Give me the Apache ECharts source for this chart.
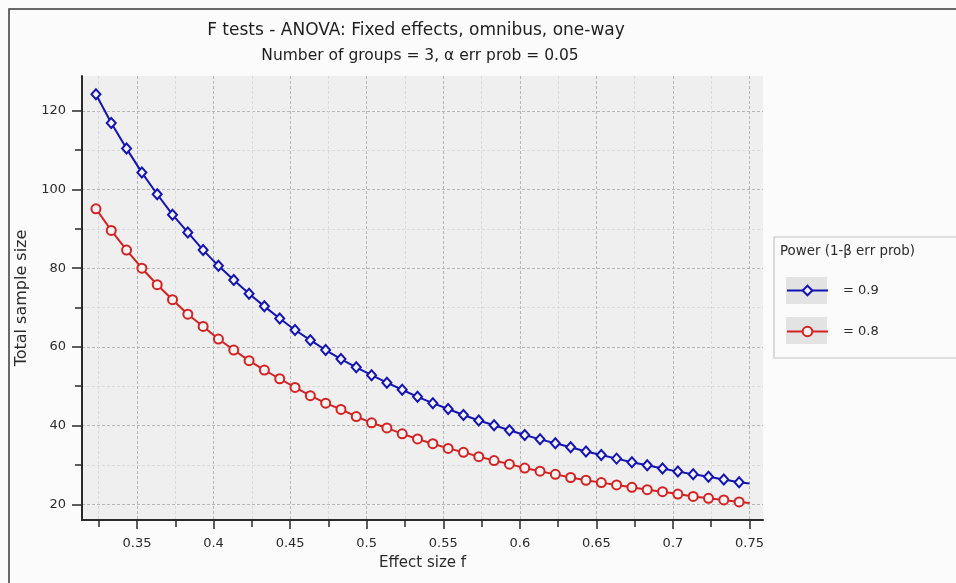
<!DOCTYPE html>
<html>
<head>
<meta charset="utf-8">
<script src="https://cdn.jsdelivr.net/npm/echarts@6/dist/echarts.min.js"></script>
<style>
html,body{margin:0;padding:0;background:#fbfbfb;}
#c{width:956px;height:583px;}
</style>
</head>
<body>
<div id="c"></div>
<script>
// Effect size f at each marker, plus the line end at 0.75
const effectSize = [0.3232,0.3332,0.3432,0.3532,0.3632,0.3732,0.3832,0.3932,0.4032,0.4132,
  0.4232,0.4332,0.4432,0.4532,0.4632,0.4732,0.4832,0.4932,0.5032,0.5132,
  0.5232,0.5332,0.5432,0.5532,0.5632,0.5732,0.5832,0.5932,0.6032,0.6132,
  0.6232,0.6332,0.6432,0.6532,0.6632,0.6732,0.6832,0.6932,0.7032,0.7132,
  0.7232,0.7332,0.7432,0.75];
// Total sample size, power = 0.9
const power09 = [124.2,116.9,110.4,104.3,98.8,93.6,89.1,84.6,80.6,77.0,
  73.5,70.3,67.2,64.3,61.7,59.2,56.9,54.8,52.8,50.9,
  49.1,47.3,45.7,44.2,42.7,41.3,40.1,38.8,37.6,36.5,
  35.5,34.5,33.4,32.5,31.6,30.7,29.9,29.1,28.3,27.6,
  27.0,26.3,25.6,25.3];
// Total sample size, power = 0.8
const power08 = [95.1,89.6,84.6,80.0,75.8,72.0,68.3,65.2,62.0,59.2,
  56.5,54.1,51.9,49.7,47.6,45.7,44.1,42.3,40.7,39.4,
  37.9,36.6,35.4,34.2,33.2,32.1,31.1,30.2,29.2,28.4,
  27.6,26.8,26.1,25.5,24.9,24.3,23.7,23.2,22.6,22.0,
  21.5,21.1,20.6,20.3];
const seriesNames = ['= 0.9', '= 0.8'];
const xMajorTicks = [0.35,0.4,0.45,0.5,0.55,0.6,0.65,0.7,0.75];
const xMinorTicks = [0.325,0.375,0.425,0.475,0.525,0.575,0.625,0.675,0.725];
const yMajorTicks = [20,40,60,80,100,120];
const yMinorTicks = [30,50,70,90,110];
const xRange = [0.3141, 0.7588];
const yRange = [16, 128.85];

const FONT = '"DejaVu Sans"';
const TXT = '#2b2b2b';

function pts(vals){
  return effectSize.map((x,i)=>{
    const item = {value:[x, vals[i]]};
    if (i === effectSize.length - 1) item.symbol = 'none';
    return item;
  });
}

const chart = echarts.init(document.getElementById('c'), null, {renderer:'canvas'});
const majorSplit = {show:true, lineStyle:{color:'#b6b6b6', type:[3,2], width:1}};
const minorSplit = {show:true, lineStyle:{color:'#dadada', type:[3,2], width:1}};

chart.setOption({
  backgroundColor:'#fbfbfb',
  animation:false,
  textStyle:{fontFamily:FONT},
  title:[
    {text:'F tests - ANOVA: Fixed effects, omnibus, one-way', left:416, top:22, padding:0, textAlign:'center',
     textStyle:{fontSize:17, fontWeight:'normal', color:'#1e1e1e', fontFamily:FONT}},
    {text:'Number of groups = 3, α err prob = 0.05', left:420, top:48, padding:0, textAlign:'center',
     textStyle:{fontSize:15.5, fontWeight:'normal', color:'#1e1e1e', fontFamily:FONT}}
  ],
  grid:{left:82, right:193, top:76, bottom:63, show:true, backgroundColor:'#efefef', borderWidth:0, containLabel:false},
  xAxis:[
    {type:'value', min:xRange[0], max:xRange[1], position:'bottom',
     name:'Effect size f', nameLocation:'middle', nameGap:36,
     nameTextStyle:{fontSize:15, color:TXT, fontFamily:FONT},
     axisLine:{show:true, lineStyle:{color:'#2a2a2a', width:2}},
     axisTick:{show:true, customValues:xMajorTicks, length:9, lineStyle:{color:'#2a2a2a', width:1.5}},
     axisLabel:{show:true, customValues:xMajorTicks, margin:17, fontSize:13, color:TXT, fontFamily:FONT},
     splitLine:majorSplit},
    {type:'value', min:xRange[0], max:xRange[1], position:'bottom',
     axisLine:{show:false},
     axisTick:{show:true, customValues:xMinorTicks, length:7, lineStyle:{color:'#2a2a2a', width:1.5}},
     axisLabel:{show:false},
     splitLine:minorSplit}
  ],
  yAxis:[
    {type:'value', min:yRange[0], max:yRange[1], position:'left',
     name:'Total sample size', nameLocation:'middle', nameGap:42,
     nameTextStyle:{fontSize:16, color:TXT, fontFamily:FONT},
     axisLine:{show:true, lineStyle:{color:'#2a2a2a', width:2}},
     axisTick:{show:true, customValues:yMajorTicks, length:10, lineStyle:{color:'#2a2a2a', width:1.5}},
     axisLabel:{show:true, customValues:yMajorTicks, margin:16, fontSize:13, color:TXT, fontFamily:FONT},
     splitLine:majorSplit},
    {type:'value', min:yRange[0], max:yRange[1], position:'left',
     axisLine:{show:false},
     axisTick:{show:true, customValues:yMinorTicks, length:7, lineStyle:{color:'#2a2a2a', width:1.5}},
     axisLabel:{show:false},
     splitLine:minorSplit}
  ],
  legend:{
    orient:'vertical', left:786, top:284, padding:0, itemWidth:41, itemHeight:12, itemGap:28,
    selectedMode:false, data:seriesNames,
    textStyle:{fontSize:13, color:TXT, fontFamily:FONT, padding:[0,0,0,10]}
  },
  graphic:[
    {type:'rect', z:0, shape:{x:9, y:9, width:1000, height:1000}, style:{fill:'none', stroke:'#3a3a3a', lineWidth:1.5}},
    {type:'rect', z:0, shape:{x:774, y:237, width:200, height:121}, style:{fill:'#fbfbfb', stroke:'#c4c4c4', lineWidth:1.2}},
    {type:'text', z:1, x:780, y:252, style:{text:'Power (1-β err prob)', fontSize:13.4, fontFamily:FONT, fill:TXT, textVerticalAlign:'middle'}},
    {type:'rect', z:1, shape:{x:786, y:277, width:41, height:27}, style:{fill:'#e3e3e3'}},
    {type:'rect', z:1, shape:{x:786, y:317, width:41, height:27}, style:{fill:'#e3e3e3'}}
  ],
  series:[
    {name:seriesNames[0], type:'line', xAxisIndex:0, yAxisIndex:0, data:pts(power09),
     symbol:'diamond', symbolSize:[9,10], showAllSymbol:true,
     lineStyle:{color:'#1414b4', width:2},
     itemStyle:{color:'#f4f4f4', borderColor:'#1414b4', borderWidth:2}},
    {name:seriesNames[1], type:'line', xAxisIndex:0, yAxisIndex:0, data:pts(power08),
     symbol:'circle', symbolSize:9, showAllSymbol:true,
     lineStyle:{color:'#d42222', width:2},
     itemStyle:{color:'#f4f4f4', borderColor:'#d42222', borderWidth:2}}
  ]
});
</script>
</body>
</html>
